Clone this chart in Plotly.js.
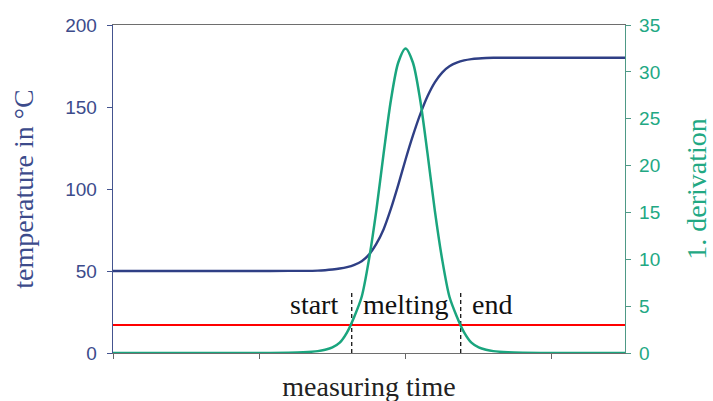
<!DOCTYPE html>
<html>
<head>
<meta charset="utf-8">
<script src="https://cdn.plot.ly/plotly-3.0.1.min.js"></script>
<style>
html,body{margin:0;padding:0;background:#fff;width:713px;height:401px;overflow:hidden;}
#wrap{width:713px;height:401px;overflow:hidden;position:relative;}
#chart{width:722px;height:410px;}
</style>
</head>
<body>
<div id="wrap"><div id="chart"></div></div>
<script>
// measuring time (arbitrary units)
var time = [0, 0.5, 1.0, 1.2, 1.3, 1.4, 1.45, 1.5, 1.55, 1.6, 1.65, 1.7, 1.75, 1.8, 1.85, 1.9, 1.95, 2.0,
            2.05, 2.1, 2.15, 2.2, 2.25, 2.3, 2.35, 2.4, 2.45, 2.5, 2.55, 2.6, 2.7, 2.8, 3.0, 3.5];
// temperature in °C
var temperature = [50, 50, 50, 50.05, 50.1, 50.25, 50.5, 50.9, 51.5, 52.4, 53.8, 56.0, 60.0, 66.5, 75.5, 88, 102.5, 118,
                   132.5, 145.5, 156.5, 165.0, 171.0, 174.8, 177.0, 178.4, 179.2, 179.6, 179.85, 180, 180, 180, 180, 180];
// 1. derivation
var derivation = [0, 0, 0, 0.03, 0.08, 0.2, 0.35, 0.6, 1.1, 2.2, 3.9, 6.0, 10.0, 15.2, 21.3, 27.0, 31.0, 32.5,
                  31.0, 27.0, 21.3, 15.2, 10.0, 6.0, 3.9, 2.2, 1.1, 0.6, 0.35, 0.2, 0.08, 0.03, 0, 0];
// threshold line (on derivation axis)
var thresholdX = [0, 3.5];
var thresholdY = [3, 3];
// start / end of melting (time)
var boundaries = [1.632, 2.377];
var boundaryTop = 6.7;
var regionLabels = ["start", "melting", "end"];
var tempTicks = [0, 50, 100, 150, 200];
var derivTicks = [0, 5, 10, 15, 20, 25, 30, 35];
var timeTicks = [0, 1, 2, 3];

var blue = "#2f3f85";
var green = "#1aa57e";
var blueText = "#3c4b8b";
var greenText = "#22a883";

var traces = [
  {x: thresholdX, y: thresholdY, yaxis: "y2", mode: "lines", line: {color: "#ff0000", width: 2}, hoverinfo: "skip"},
  {x: [boundaries[0], boundaries[0]], y: [0, boundaryTop], yaxis: "y2", mode: "lines",
   line: {color: "#000", width: 1.2, dash: "4px,3px"}, hoverinfo: "skip"},
  {x: [boundaries[1], boundaries[1]], y: [0, boundaryTop], yaxis: "y2", mode: "lines",
   line: {color: "#000", width: 1.2, dash: "4px,3px"}, hoverinfo: "skip"},
  {x: time, y: derivation, yaxis: "y2", mode: "lines", line: {color: green, width: 2.5, shape: "spline", smoothing: 0.8}, hoverinfo: "skip"},
  {x: time, y: temperature, yaxis: "y", mode: "lines", line: {color: blue, width: 2.4, shape: "spline", smoothing: 0.8}, hoverinfo: "skip"}
];

var serif = "Liberation Serif, Times New Roman, serif";
var layout = {
  width: 722, height: 410,
  margin: {l: 113, r: 97, t: 25, b: 57},
  paper_bgcolor: "#fff", plot_bgcolor: "#fff",
  showlegend: false,
  xaxis: {
    range: [0, 3.5], tickvals: timeTicks, showticklabels: false,
    ticks: "outside", ticklen: 5, tickcolor: "#666", tickwidth: 1,
    showline: true, linecolor: "#6e6e6e", linewidth: 1.3, mirror: true,
    showgrid: false, zeroline: false,
    title: {text: "measuring time", font: {family: serif, size: 28, color: "#222"}, standoff: 18}
  },
  yaxis: {
    range: [0, 200], tickvals: tempTicks, ticks: "outside", ticklen: 5, tickcolor: "#44548f",
    showline: true, linecolor: "#44548f", linewidth: 1.3, showgrid: false, zeroline: false,
    tickfont: {family: "Liberation Sans, Arial, sans-serif", size: 19, color: blueText},
    ticklabelstandoff: 6,
    title: {text: "temperature in °C", font: {family: serif, size: 28, color: blueText}, standoff: 23}
  },
  yaxis2: {
    range: [0, 35], tickvals: derivTicks, overlaying: "y", side: "right",
    ticks: "outside", ticklen: 5, tickcolor: "#4e9986",
    showline: true, linecolor: "#4e9986", linewidth: 1.3, showgrid: false, zeroline: false,
    tickfont: {family: "Liberation Sans, Arial, sans-serif", size: 19, color: greenText},
    ticklabelstandoff: 4,
    title: {text: "1. derivation", font: {family: serif, size: 28, color: greenText}, standoff: 27}
  },
  annotations: [
    {x: boundaries[0], y: 5.2, xref: "x", yref: "y2", text: regionLabels[0], showarrow: false,
     xanchor: "right", yanchor: "middle", xshift: -12, font: {family: serif, size: 28, color: "#111"}},
    {x: (boundaries[0] + boundaries[1]) / 2, y: 5.2, xref: "x", yref: "y2", text: regionLabels[1], showarrow: false,
     xanchor: "center", yanchor: "middle", font: {family: serif, size: 28, color: "#111"}},
    {x: boundaries[1], y: 5.2, xref: "x", yref: "y2", text: regionLabels[2], showarrow: false,
     xanchor: "left", yanchor: "middle", xshift: 9, font: {family: serif, size: 28, color: "#111"}}
  ]
};

Plotly.newPlot("chart", traces, layout, {displayModeBar: false, staticPlot: true});
</script>
</body>
</html>
